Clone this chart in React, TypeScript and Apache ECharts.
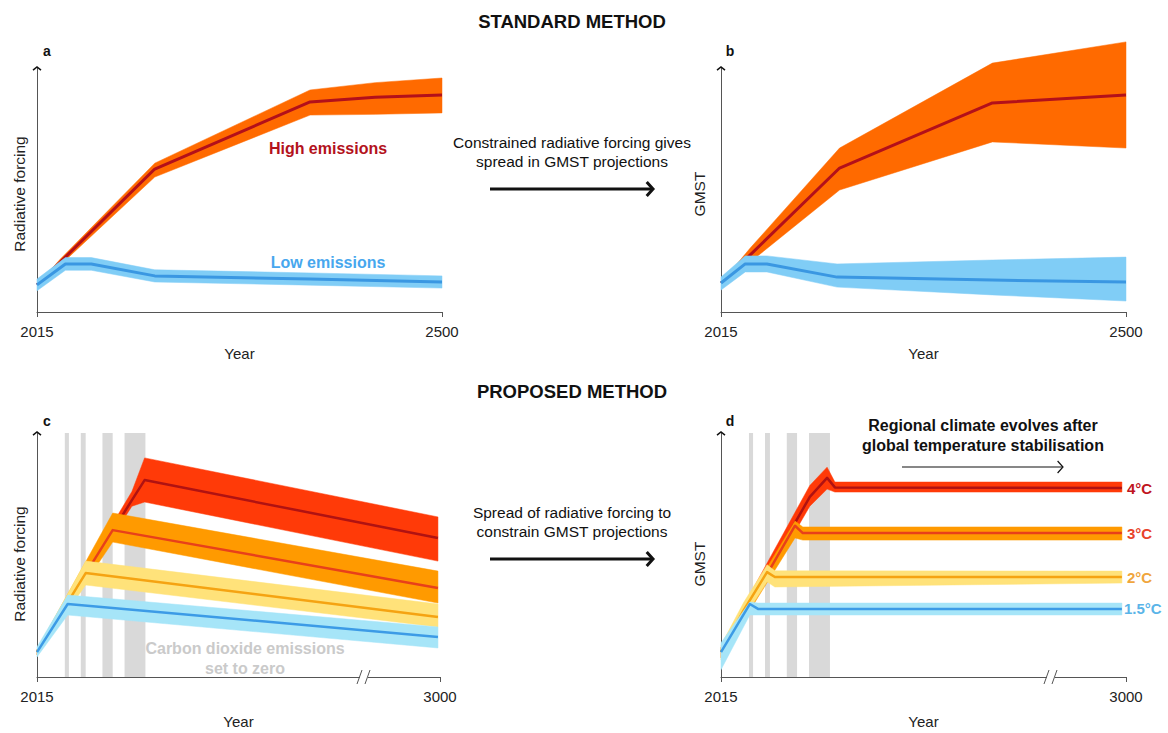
import React, { useEffect, useRef } from "react";
import * as echarts from "echarts";

const FONT = '"Liberation Sans", Arial, Helvetica, sans-serif';

// ---------- Panel a: radiative forcing, standard method ----------
const A_HIGH_YEARS = [2015, 2043, 2156, 2342, 2420, 2500];
const A_HIGH_MID = [11.1, 20.5, 58.6, 86.1, 88.0, 88.9];
const A_HIGH_UP = [11.1, 21.7, 61.0, 91.0, 94.0, 95.9];
const A_HIGH_LO = [11.1, 19.3, 55.3, 80.7, 81.0, 81.6];

const A_LOW_YEARS = [2015, 2049, 2080, 2156, 2342, 2500];
const A_LOW_MID = [11.1, 19.7, 19.7, 14.8, 13.5, 12.3];
const A_LOW_UP = [13.5, 22.3, 22.3, 17.3, 16.0, 14.8];
const A_LOW_LO = [8.7, 17.1, 17.1, 12.3, 11.0, 9.8];

// ---------- Panel b: GMST, standard method ----------
const B_HIGH_YEARS = [2015, 2050, 2157, 2340, 2500];
const B_HIGH_MID = [11.9, 23.4, 59.0, 85.7, 88.9];
const B_HIGH_UP = [11.9, 26.2, 67.2, 102.0, 110.7];
const B_HIGH_LO = [11.9, 20.5, 50.0, 69.7, 67.2];

const B_LOW_YEARS = [2015, 2044, 2070, 2154, 2340, 2500];
const B_LOW_MID = [11.9, 19.7, 19.7, 14.3, 13.1, 12.3];
const B_LOW_UP = [14.3, 23.0, 23.0, 19.7, 21.3, 22.5];
const B_LOW_LO = [9.0, 16.4, 16.4, 10.2, 7.0, 4.5];

// ---------- Panel c: radiative forcing, proposed method ----------
const C15_YEARS = [2015, 2090, 2995];
const C15_MID = [10.2, 29.9, 16.4];
const C15_UP = [12.3, 33.6, 20.5];
const C15_LO = [8.2, 25.4, 11.9];

const C2_YEARS = [2015, 2134, 2995];
const C2_MID = [10.2, 42.6, 24.6];
const C2_UP = [11.2, 47.5, 29.9];
const C2_LO = [9.2, 37.7, 20.5];

const C3_YEARS = [2015, 2200, 2995];
const C3_MID = [10.2, 60.2, 36.5];
const C3_UP = [11.2, 67.2, 43.4];
const C3_LO = [9.2, 55.3, 30.3];

const C4_YEARS = [2015, 2247, 2278, 2995];
const C4_MID = [10.2, 72.5, 80.7, 57.0];
const C4_UP = [11.2, 76.0, 89.8, 65.6];
const C4_LO = [9.2, 70.0, 71.7, 47.5];

// ---------- Panel d: GMST, proposed method ----------
const D15_YEARS = [2015, 2085, 2105, 2990];
const D15_MID = [10.2, 29.9, 27.9, 27.9];
const D15_UP = [14.0, 30.7, 30.3, 30.3];
const D15_LO = [3.0, 25.4, 25.4, 25.4];

const D2_YEARS = [2015, 2070, 2127, 2146, 2990];
const D2_MID = [10.2, 27.3, 43.0, 41.0, 41.0];
const D2_UP = [13.0, 30.5, 46.0, 43.5, 43.4];
const D2_LO = [7.0, 24.0, 39.0, 36.9, 38.5];

const D3_YEARS = [2015, 2105, 2195, 2214, 2990];
const D3_MID = [10.2, 35.7, 62.0, 59.0, 59.0];
const D3_UP = [12.0, 38.7, 63.9, 61.5, 61.5];
const D3_LO = [8.0, 32.7, 57.0, 56.1, 56.1];

const D4_YEARS = [2015, 2120, 2231, 2273, 2292, 2990];
const D4_MID = [10.2, 41.1, 73.8, 81.6, 77.7, 77.5];
const D4_UP = [12.0, 44.5, 78.5, 86.0, 79.9, 79.9];
const D4_LO = [8.0, 37.7, 70.0, 77.0, 75.8, 75.8];

// Periods where carbon dioxide emissions are set to zero (grey bars)
const ZERO_CO2_PERIODS = [
  [2083, 2093],
  [2122, 2134],
  [2175, 2200],
  [2229, 2280],
];

const STD_TICKS = [2015, 2500];
const PROP_TICKS = [2015, 3000];
const SCENARIO_LABELS = ["4°C", "3°C", "2°C", "1.5°C"];

// colours
const HIGH_BAND = "#ff6a00";
const HIGH_LINE = "#b3101a";
const LOW_BAND = "#80cdf6";
const LOW_LINE = "#3a97e2";
const RED_BAND = "#ff3a08";
const RED_LINE = "#b01212";
const ORANGE_BAND = "#ff9a00";
const ORANGE_LINE = "#e8401a";
const YELLOW_BAND = "#ffe27a";
const YELLOW_LINE = "#f5a312";
const CYAN_BAND = "#a6e5f8";
const BLUE_LINE = "#3c9be6";
const AXIS = "#555555";
const GREY = "#d9d9d9";

const pairs = (xs: number[], ys: number[]) => xs.map((x, i) => [x, ys[i]]);

// uncertainty band drawn as one polygon through the axis scales
function band(idx: number, xs: number[], lo: number[], up: number[], color: string, z: number) {
  return {
    type: "custom", xAxisIndex: idx, yAxisIndex: idx, z, silent: true, clip: false,
    data: xs.map((x, i) => [x, lo[i], up[i]]),
    encode: { x: 0, y: [1, 2] },
    renderItem: (params: any, api: any) => {
      if (params.dataIndex !== 0) return { type: "group", children: [] };
      const top = xs.map((x, i) => api.coord([x, up[i]]));
      const bot = xs.map((x, i) => api.coord([x, lo[i]])).reverse();
      return { type: "polygon", shape: { points: top.concat(bot) }, style: { fill: color, stroke: color, lineWidth: 0.5 } };
    },
  };
}
function midLine(idx: number, xs: number[], ys: number[], color: string, width: number, z: number) {
  return {
    type: "line", xAxisIndex: idx, yAxisIndex: idx, data: pairs(xs, ys), symbol: "none",
    lineStyle: { color, width, join: "round" }, silent: true, z, clip: false,
  };
}

function xAxisCfg(idx: number, ticks: number[], nameGap: number) {
  return {
    gridIndex: idx, type: "value", min: ticks[0], max: ticks[1],
    name: "Year", nameLocation: "middle", nameGap,
    nameTextStyle: { fontFamily: FONT, fontSize: 15, color: "#222" },
    axisLine: { show: true, onZero: false, lineStyle: { color: AXIS, width: 1 } },
    axisTick: { show: true, customValues: ticks, length: 5, lineStyle: { color: AXIS } },
    axisLabel: {
      customValues: ticks, fontFamily: FONT, fontSize: 15, color: "#222", margin: 12,
      formatter: (v: number) => String(v),
    },
    splitLine: { show: false },
  };
}
function yAxisCfg(idx: number, name: string, nameGap: number, pad: number) {
  return {
    gridIndex: idx, type: "value", min: 0, max: 100, name, nameLocation: "middle", nameGap,
    nameTextStyle: { fontFamily: FONT, fontSize: 15.5, color: "#222", padding: [0, pad, 0, 0] },
    axisLine: { show: true, onZero: false, lineStyle: { color: AXIS, width: 1 } },
    axisTick: { show: false }, axisLabel: { show: false }, splitLine: { show: false },
  };
}

function txt(text: string, x: number, y: number, size: number, color: string, bold = false, align = "center") {
  return {
    type: "text", z: 100,
    style: {
      text, x, y, fill: color, fontFamily: FONT, fontSize: size,
      fontWeight: bold ? "bold" : "normal", align, verticalAlign: "middle",
    },
  };
}
function chevron(x: number, y: number, dir: "up" | "right", s: number, w: number) {
  const pts = dir === "up"
    ? [[x - s, y + s * 0.8], [x, y], [x + s, y + s * 0.8]]
    : [[x - s * 0.9, y - s], [x, y], [x - s * 0.9, y + s]];
  return { type: "polyline", z: 100, shape: { points: pts }, style: { stroke: "#111", lineWidth: w, fill: null } };
}
function arrow(x1: number, x2: number, y: number, w: number, s: number) {
  return [
    { type: "line", z: 100, shape: { x1, y1: y, x2: x2 - 1, y2: y }, style: { stroke: "#111", lineWidth: w } },
    chevron(x2, y, "right", s, w),
  ];
}
function breakMark(x: number, y: number) {
  return [
    { type: "rect", z: 100, shape: { x: x - 4, y: y - 3, width: 8, height: 6 }, style: { fill: "#fff" } },
    { type: "line", z: 101, shape: { x1: x - 7, y1: y + 7, x2: x - 2, y2: y - 7 }, style: { stroke: AXIS, lineWidth: 1 } },
    { type: "line", z: 101, shape: { x1: x + 1, y1: y + 7, x2: x + 6, y2: y - 7 }, style: { stroke: AXIS, lineWidth: 1 } },
  ];
}

function greyBars(idx: number) {
  return {
    type: "line", xAxisIndex: idx, yAxisIndex: idx, data: [], symbol: "none", silent: true, z: 1,
    markArea: {
      silent: true,
      itemStyle: { color: GREY },
      data: ZERO_CO2_PERIODS.map(([a, b]) => [{ xAxis: a }, { xAxis: b }]),
    },
  };
}

function buildOption() {
  const series: any[] = [
    // a
    band(0, A_HIGH_YEARS, A_HIGH_LO, A_HIGH_UP, HIGH_BAND, 2),
    midLine(0, A_HIGH_YEARS, A_HIGH_MID, HIGH_LINE, 3, 3),
    band(0, A_LOW_YEARS, A_LOW_LO, A_LOW_UP, LOW_BAND, 4),
    midLine(0, A_LOW_YEARS, A_LOW_MID, LOW_LINE, 3, 5),
    // b
    band(1, B_HIGH_YEARS, B_HIGH_LO, B_HIGH_UP, HIGH_BAND, 2),
    midLine(1, B_HIGH_YEARS, B_HIGH_MID, HIGH_LINE, 3, 3),
    band(1, B_LOW_YEARS, B_LOW_LO, B_LOW_UP, LOW_BAND, 4),
    midLine(1, B_LOW_YEARS, B_LOW_MID, LOW_LINE, 3, 5),
    // c
    greyBars(2),
    band(2, C4_YEARS, C4_LO, C4_UP, RED_BAND, 2),
    midLine(2, C4_YEARS, C4_MID, RED_LINE, 2.5, 3),
    band(2, C3_YEARS, C3_LO, C3_UP, ORANGE_BAND, 4),
    midLine(2, C3_YEARS, C3_MID, ORANGE_LINE, 2.5, 5),
    band(2, C2_YEARS, C2_LO, C2_UP, YELLOW_BAND, 6),
    midLine(2, C2_YEARS, C2_MID, YELLOW_LINE, 2.5, 7),
    band(2, C15_YEARS, C15_LO, C15_UP, CYAN_BAND, 8),
    midLine(2, C15_YEARS, C15_MID, BLUE_LINE, 2.5, 9),
    // d
    greyBars(3),
    band(3, D4_YEARS, D4_LO, D4_UP, RED_BAND, 2),
    midLine(3, D4_YEARS, D4_MID, RED_LINE, 2.5, 3),
    band(3, D3_YEARS, D3_LO, D3_UP, ORANGE_BAND, 4),
    midLine(3, D3_YEARS, D3_MID, ORANGE_LINE, 2.5, 5),
    band(3, D2_YEARS, D2_LO, D2_UP, YELLOW_BAND, 6),
    midLine(3, D2_YEARS, D2_MID, YELLOW_LINE, 2.5, 7),
    band(3, D15_YEARS, D15_LO, D15_UP, CYAN_BAND, 8),
    midLine(3, D15_YEARS, D15_MID, BLUE_LINE, 2.5, 9),
  ];

  const graphic: any[] = [
    txt("STANDARD METHOD", 572, 21, 18.5, "#111", true),
    txt("PROPOSED METHOD", 572, 391, 18.5, "#111", true),
    txt("a", 47, 51, 14, "#111", true),
    txt("b", 730, 51, 14, "#111", true),
    txt("c", 47, 421, 14, "#111", true),
    txt("d", 730, 421, 14, "#111", true),
    txt("High emissions", 328, 148, 16, "#b3121c", true),
    txt("Low emissions", 328, 262, 16, "#47a7ee", true),
    txt("Constrained radiative forcing gives", 572, 142, 15.5, "#111"),
    txt("spread in GMST projections", 572, 161, 15.5, "#111"),
    txt("Spread of radiative forcing to", 572, 512, 15.5, "#111"),
    txt("constrain GMST projections", 572, 531, 15.5, "#111"),
    txt("Carbon dioxide emissions", 245, 648, 16, "#cacaca", true),
    txt("set to zero", 245, 668, 16, "#cacaca", true),
    txt("Regional climate evolves after", 983, 425, 16, "#111", true),
    txt("global temperature stabilisation", 983, 445, 16, "#111", true),
    txt(SCENARIO_LABELS[0], 1127, 488, 15, "#c0141e", true, "left"),
    txt(SCENARIO_LABELS[1], 1127, 533, 15, "#e8432a", true, "left"),
    txt(SCENARIO_LABELS[2], 1127, 577, 15, "#f0a53c", true, "left"),
    txt(SCENARIO_LABELS[3], 1124, 608, 15, "#5ab4e8", true, "left"),
    chevron(37, 67, "up", 4, 1.5),
    chevron(721, 67, "up", 4, 1.5),
    chevron(37, 432, "up", 4, 1.5),
    chevron(721, 432, "up", 4, 1.5),
    ...arrow(490, 653, 189, 3, 7),
    ...arrow(490, 653, 559, 3, 7),
    ...arrow(902, 1063, 467, 1.2, 6),
    ...breakMark(364, 677),
    ...breakMark(1051, 677),
  ];

  return {
    animation: false,
    backgroundColor: "#ffffff",
    textStyle: { fontFamily: FONT },
    grid: [
      { left: 37, top: 68, width: 405, height: 244 },
      { left: 721, top: 68, width: 405, height: 244 },
      { left: 37, top: 433, width: 403, height: 244 },
      { left: 721, top: 433, width: 405, height: 244 },
    ],
    xAxis: [
      xAxisCfg(0, STD_TICKS, 34),
      xAxisCfg(1, STD_TICKS, 34),
      xAxisCfg(2, PROP_TICKS, 37),
      xAxisCfg(3, PROP_TICKS, 37),
    ],
    yAxis: [
      yAxisCfg(0, "Radiative forcing", 10, 8),
      yAxisCfg(1, "GMST", 14, 8),
      yAxisCfg(2, "Radiative forcing", 10, 18),
      yAxisCfg(3, "GMST", 14, 18),
    ],
    series,
    graphic: { elements: graphic },
  };
}

export default function App() {
  const ref = useRef<HTMLDivElement>(null);
  useEffect(() => {
    if (!ref.current) return;
    const chart = echarts.init(ref.current, null, { renderer: "svg" });
    chart.setOption(buildOption() as any);
    return () => chart.dispose();
  }, []);
  return (
    <div
      ref={ref}
      style={{ position: "absolute", left: 0, top: 0, width: 1168, height: 733, background: "#fff" }}
    />
  );
}
